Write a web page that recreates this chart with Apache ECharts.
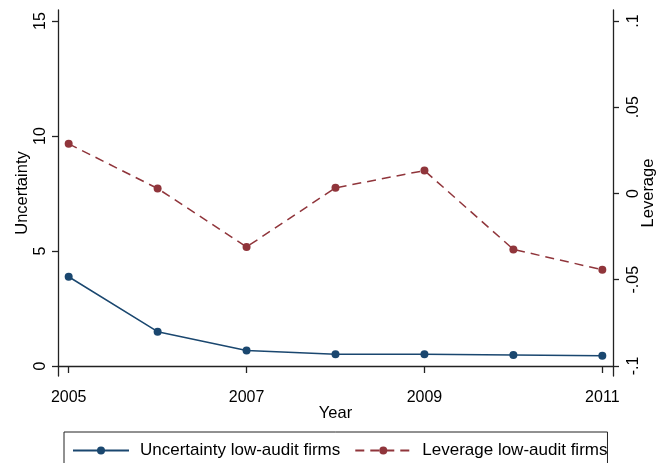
<!DOCTYPE html>
<html>
<head>
<meta charset="utf-8">
<script src="https://cdn.jsdelivr.net/npm/echarts@6/dist/echarts.min.js"></script>
<style>
  html, body { margin: 0; padding: 0; background: #fff; }
  #chart { width: 659px; height: 463px; }
</style>
</head>
<body>
<div id="chart"></div>
<script>
// Yearly means for low-audit firms
const years = [2005, 2006, 2007, 2008, 2009, 2010, 2011];
const uncertainty = [3.88, 1.49, 0.67, 0.51, 0.51, 0.48, 0.45];
const leverage = [0.0288, 0.0029, -0.0310, 0.0033, 0.0133, -0.0324, -0.0442];

// Axis tick positions
const yearTicks = [2005, 2007, 2009, 2011];
const uncertaintyTicks = [0, 5, 10, 15];
const leverageTicks = [-0.1, -0.05, 0, 0.05, 0.1];

const seriesNames = ['Uncertainty low-audit firms', 'Leverage low-audit firms'];

const FONT = "'Liberation Sans', Arial, sans-serif";
const NAVY = '#1a476f';
const MAROON = '#90353b';
const AXIS = '#222';

// Stata-style decimals: drop the leading zero (".05", "-.1")
function stataNum(v) {
  if (v === 0) return '0';
  const s = String(Math.round(v * 1000) / 1000);
  return s.replace(/^(-?)0\./, '$1.');
}

const chart = echarts.init(document.getElementById('chart'), null, { renderer: 'canvas' });

const axisCommon = {
  axisLine: { show: true, lineStyle: { color: AXIS, width: 1.3 } },
  splitLine: { show: false },
  nameMoveOverlap: false,
  nameTextStyle: { fontFamily: FONT, fontSize: 16.5, color: '#000' }
};

chart.setOption({
  animation: false,
  backgroundColor: '#fff',
  textStyle: { fontFamily: FONT },
  grid: { left: 58, right: 46, top: 10, bottom: 87, containLabel: false, outerBoundsMode: 'none' },
  legend: {
    data: seriesNames,
    left: 64,
    top: 432,
    orient: 'horizontal',
    itemWidth: 56,
    itemHeight: 10,
    itemGap: 14,
    padding: [10, 0, 20, 8],
    borderColor: '#222',
    borderWidth: 1,
    textStyle: { fontFamily: FONT, fontSize: 17, color: '#000', padding: [0, 0, 0, 6] }
  },
  xAxis: {
    ...axisCommon,
    type: 'value',
    min: 2004.88,
    max: 2011.12,
    name: 'Year',
    nameLocation: 'middle',
    nameGap: 29,
    axisTick: { show: true, length: 7, lineStyle: { color: AXIS, width: 1.3 }, customValues: yearTicks },
    axisLabel: {
      customValues: yearTicks,
      margin: 14,
      fontFamily: FONT, fontSize: 16, color: '#000',
      formatter: v => String(v)
    }
  },
  yAxis: [
    {
      ...axisCommon,
      type: 'value',
      position: 'left',
      min: -0.4348,
      max: 15.478,
      name: 'Uncertainty',
      nameLocation: 'middle',
      nameGap: 27,
      axisTick: { show: true, length: 6, lineStyle: { color: AXIS, width: 1.3 }, customValues: uncertaintyTicks },
      axisLabel: {
        customValues: uncertaintyTicks,
        rotate: 90,
        margin: 9,
        fontFamily: FONT, fontSize: 16, color: '#000',
        formatter: v => String(v)
      }
    },
    {
      ...axisCommon,
      type: 'value',
      position: 'right',
      min: -0.1058,
      max: 0.10638,
      name: 'Leverage',
      nameLocation: 'middle',
      nameGap: 27,
      axisTick: { show: true, length: 6, lineStyle: { color: AXIS, width: 1.3 }, customValues: leverageTicks },
      axisLabel: {
        customValues: leverageTicks,
        rotate: 90,
        margin: 13,
        fontFamily: FONT, fontSize: 16, color: '#000',
        formatter: v => stataNum(v)
      }
    }
  ],
  series: [
    {
      name: seriesNames[0],
      type: 'line',
      yAxisIndex: 0,
      data: years.map((y, i) => [y, uncertainty[i]]),
      symbol: 'circle',
      symbolSize: 8,
      itemStyle: { color: NAVY },
      lineStyle: { color: NAVY, width: 1.5 }
    },
    {
      name: seriesNames[1],
      type: 'line',
      yAxisIndex: 1,
      data: years.map((y, i) => [y, leverage[i]]),
      symbol: 'circle',
      symbolSize: 8,
      itemStyle: { color: MAROON },
      lineStyle: { color: MAROON, width: 1.5, type: [9, 6] }
    }
  ]
});
</script>
</body>
</html>
